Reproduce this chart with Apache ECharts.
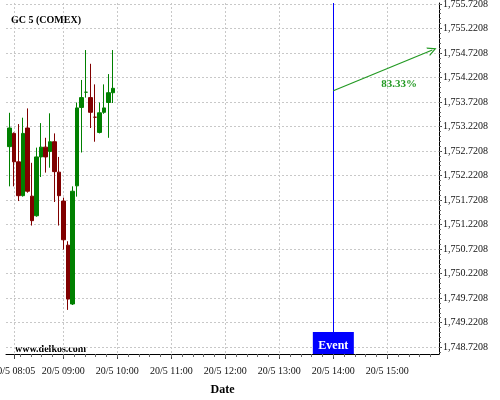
<!DOCTYPE html>
<html><head><meta charset="utf-8">
<script src="https://cdn.jsdelivr.net/npm/echarts@6/dist/echarts.min.js"></script>
<style>html,body{margin:0;padding:0;background:#fff}#c{width:500px;height:400px}</style>
</head><body><div id="c"></div>
<script>
// 5-minute candles, 20/5
const times = ['08:00','08:05','08:10','08:15','08:20','08:25','08:30','08:35','08:40','08:45','08:50','08:55',
               '09:00','09:05','09:10','09:15','09:20','09:25','09:30','09:35','09:40','09:45','09:50','09:55'];
const openP  = [1752.81,1753.08,1752.50,1751.81,1753.19,1751.80,1751.40,1752.60,1752.80,1752.71,1752.91,1752.29,
                1751.70,1750.80,1749.60,1752.01,1753.61,1753.92,1753.81,1753.41,1753.10,1753.51,1753.71,1753.91];
const closeP = [1753.19,1752.50,1751.81,1753.08,1751.90,1751.30,1752.60,1752.80,1752.60,1752.91,1752.30,1751.81,
                1750.91,1749.70,1751.90,1753.60,1753.81,1753.92,1753.51,1753.41,1753.50,1753.60,1753.91,1754.00];
const lowP   = [1752.00,1752.00,1751.70,1751.79,1751.87,1751.20,1751.38,1752.19,1752.28,1752.38,1751.68,1751.20,
                1750.71,1749.48,1749.58,1751.79,1752.69,1753.81,1753.19,1752.91,1753.08,1753.48,1752.99,1753.70];
const highP  = [1753.50,1753.10,1753.27,1753.40,1753.59,1752.48,1752.79,1753.29,1752.99,1753.49,1753.08,1752.60,
                1751.77,1750.88,1752.00,1753.71,1754.17,1754.78,1754.50,1754.08,1753.71,1754.08,1754.29,1754.78];

const xTickTimes = ['08:05','09:00','10:00','11:00','12:00','13:00','14:00','15:00'];
const yTickValues = [1748.7208,1749.2208,1749.7208,1750.2208,1750.7208,1751.2208,1751.7208,
                     1752.2208,1752.7208,1753.2208,1753.7208,1754.2208,1754.7208,1755.2208,1755.7208];
const xStart = '07:56.3', xEnd = '15:57.4';
const yMin = 1748.58, yMax = 1755.74;

const eventTime = '14:00';
const arrowStart = ['14:00', 1753.95];
const arrowEnd = ['15:50', 1754.78];
const arrowText = '83.33%';
const arrowTextAt = ['15:13', 1754.08];

const FONT = '"Liberation Serif","Times New Roman",serif';
const toMin = s => { const p = s.split(':'); return Number(p[0]) * 60 + Number(p[1]); };
const pad = n => (n < 10 ? '0' : '') + n;
const fmtX = v => { const h = Math.floor(v / 60 + 1e-9); const m = Math.round(v - h * 60); return '20/5 ' + pad(h) + ':' + pad(m); };
const fmtY = v => { const s = v.toFixed(4).split('.'); return s[0].replace(/\B(?=(\d{3})+(?!\d))/g, ',') + '.' + s[1]; };

const xMajor = xTickTimes.map(toMin);
const xMinor = [];
for (let t = toMin('08:12'); t < toMin(xEnd); t += 12) xMinor.push(t);
const yMinor = [];
for (let k = 0; k < 80; k++) { const v = yTickValues[0] - 0.1 * 2 + 0.1 * k; if (v > yMin && v < yMax) yMinor.push(+v.toFixed(4)); }

const candles = times.map((t, i) => [toMin(t), openP[i], closeP[i], lowP[i], highP[i]]);
const arrowHead = 'path://M0,10 L5,0 L10,10 L8.6,10 L5,2.8 L1.4,10 Z';

const chart = echarts.init(document.getElementById('c'), null, {renderer: 'canvas'});
chart.setOption({
  animation: false,
  backgroundColor: '#fff',
  grid: {left: 6, right: 61, top: 3, bottom: 46, containLabel: false, outerBoundsMode: 'none'},
  xAxis: [{
    type: 'value', min: toMin(xStart), max: toMin(xEnd), position: 'bottom',
    name: 'Date', nameLocation: 'middle', nameGap: 30,
    nameTextStyle: {fontFamily: FONT, fontWeight: 'bold', fontSize: 12, color: '#000'},
    axisLine: {show: true, onZero: false, lineStyle: {color: '#000', width: 1}},
    axisTick: {show: true, length: 5, customValues: xMajor, lineStyle: {color: '#444'}},
    axisLabel: {show: true, customValues: xMajor, formatter: fmtX, margin: 12, fontFamily: FONT, fontSize: 10, color: '#111'},
    splitLine: {show: true, lineStyle: {color: '#c8c8c8', type: [2, 2], width: 1}}
  }, {
    type: 'value', min: toMin(xStart), max: toMin(xEnd), position: 'bottom', gridIndex: 0,
    axisLine: {show: false}, axisLabel: {show: false}, splitLine: {show: false},
    axisTick: {show: true, length: 3, customValues: xMinor, lineStyle: {color: '#666'}}
  }],
  yAxis: [{
    type: 'value', min: yMin, max: yMax, position: 'right', scale: true,
    axisLine: {show: true, onZero: false, lineStyle: {color: '#000', width: 1}},
    axisTick: {show: true, length: 3, customValues: yTickValues, lineStyle: {color: '#444'}},
    axisLabel: {show: true, customValues: yTickValues, formatter: fmtY, margin: 4, fontFamily: FONT, fontSize: 10, color: '#111'},
    splitLine: {show: true, lineStyle: {color: '#c8c8c8', type: [2, 2], width: 1}}
  }, {
    type: 'value', min: yMin, max: yMax, position: 'right', gridIndex: 0, scale: true,
    axisLine: {show: false}, axisLabel: {show: false}, splitLine: {show: false},
    axisTick: {show: true, length: 2, customValues: yMinor, lineStyle: {color: '#666'}}
  }],
  graphic: [
    {type: 'text', left: 11, top: 15, style: {text: 'GC 5 (COMEX)', font: 'bold 10px ' + FONT, fill: '#000'}},
    {type: 'text', left: 15, top: 344, style: {text: 'www.delkos.com', font: 'bold 10px ' + FONT, fill: '#000'}}
  ],
  series: [{
    type: 'candlestick', xAxisIndex: 0, yAxisIndex: 0,
    data: candles, encode: {x: 0, y: [1, 2, 3, 4]},
    barWidth: 4,
    itemStyle: {color: '#008000', color0: '#800000', borderColor: '#008000', borderColor0: '#800000', borderWidth: 1},
    markLine: {
      silent: true, animation: false, symbol: ['none', 'none'],
      label: {show: false},
      data: [
        {xAxis: toMin(eventTime), lineStyle: {color: '#0000ff', width: 1, type: 'solid'}},
        [
          {coord: [toMin(arrowStart[0]), arrowStart[1]], symbol: 'none', lineStyle: {color: '#229922', width: 1.2, type: 'solid'}},
          {coord: [toMin(arrowEnd[0]), arrowEnd[1]], symbol: arrowHead, symbolSize: [9, 9]}
        ]
      ]
    },
    markPoint: {
      silent: true, animation: false,
      data: [
        {coord: [toMin(eventTime), yMin], symbol: 'rect', symbolSize: [41, 22], symbolOffset: [0, -11],
         itemStyle: {color: '#0000ff'},
         label: {show: true, position: 'inside', formatter: 'Event', color: '#fff', fontWeight: 'bold', fontSize: 12, fontFamily: FONT, offset: [0, 3]}},
        {coord: [toMin(arrowTextAt[0]), arrowTextAt[1]], symbol: 'circle', symbolSize: 0,
         label: {show: true, position: 'inside', formatter: arrowText, color: '#229922', fontWeight: 'bold', fontSize: 11, fontFamily: FONT}}
      ]
    }
  }]
});
</script></body></html>
